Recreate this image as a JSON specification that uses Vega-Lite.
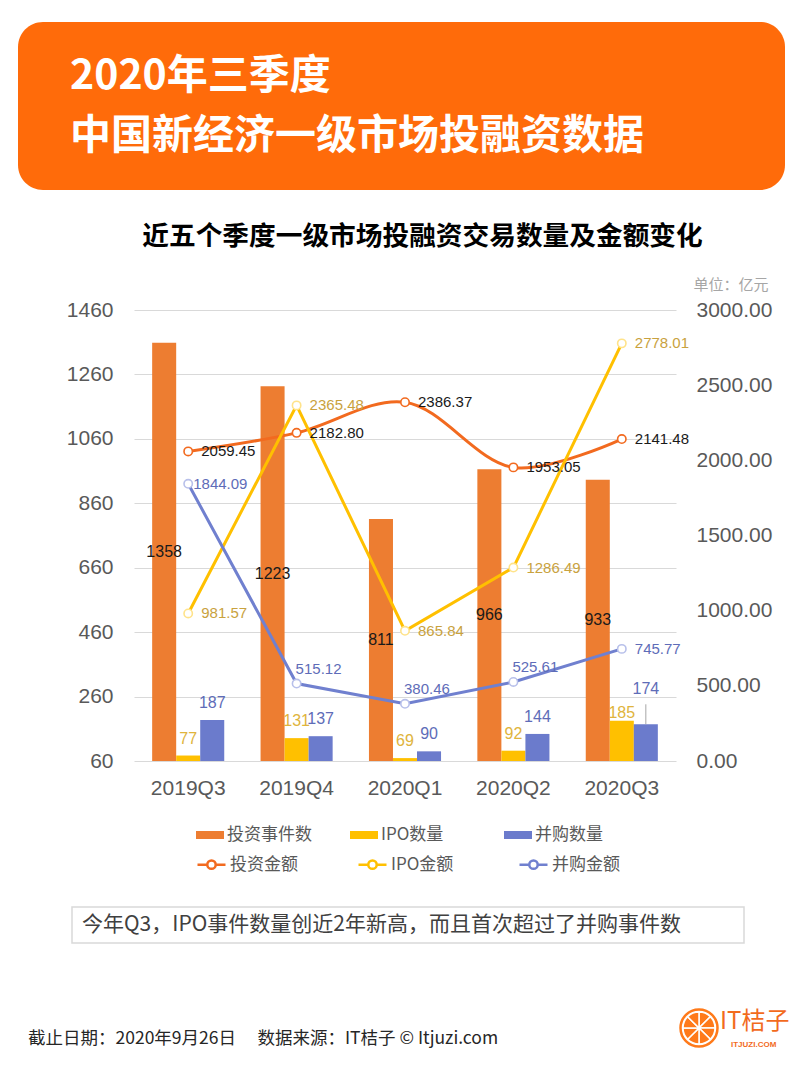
{
  "$schema": "https://vega.github.io/schema/vega-lite/v6.json",
  "background": "white",
  "padding": {"left": 18, "top": 22, "right": 17, "bottom": 10},
  "autosize": {"type": "pad"},
  "config": {"view": {"stroke": null}, "font": "Noto Sans CJK SC"},
  "datasets": {
    "counts": [
      {"quarter": "2019Q3", "series": "投资事件数", "count": 1358},
      {"quarter": "2019Q3", "series": "IPO数量", "count": 77},
      {"quarter": "2019Q3", "series": "并购数量", "count": 187},
      {"quarter": "2019Q4", "series": "投资事件数", "count": 1223},
      {"quarter": "2019Q4", "series": "IPO数量", "count": 131},
      {"quarter": "2019Q4", "series": "并购数量", "count": 137},
      {"quarter": "2020Q1", "series": "投资事件数", "count": 811},
      {"quarter": "2020Q1", "series": "IPO数量", "count": 69},
      {"quarter": "2020Q1", "series": "并购数量", "count": 90},
      {"quarter": "2020Q2", "series": "投资事件数", "count": 966},
      {"quarter": "2020Q2", "series": "IPO数量", "count": 92},
      {"quarter": "2020Q2", "series": "并购数量", "count": 144},
      {"quarter": "2020Q3", "series": "投资事件数", "count": 933},
      {"quarter": "2020Q3", "series": "IPO数量", "count": 185},
      {"quarter": "2020Q3", "series": "并购数量", "count": 174}
    ],
    "amounts": [
      {"quarter": "2019Q3", "series": "投资金额", "amount": 2059.45},
      {"quarter": "2019Q4", "series": "投资金额", "amount": 2182.80},
      {"quarter": "2020Q1", "series": "投资金额", "amount": 2386.37},
      {"quarter": "2020Q2", "series": "投资金额", "amount": 1953.05},
      {"quarter": "2020Q3", "series": "投资金额", "amount": 2141.48},
      {"quarter": "2019Q3", "series": "IPO金额", "amount": 981.57},
      {"quarter": "2019Q4", "series": "IPO金额", "amount": 2365.48},
      {"quarter": "2020Q1", "series": "IPO金额", "amount": 865.84},
      {"quarter": "2020Q2", "series": "IPO金额", "amount": 1286.49},
      {"quarter": "2020Q3", "series": "IPO金额", "amount": 2778.01},
      {"quarter": "2019Q3", "series": "并购金额", "amount": 1844.09},
      {"quarter": "2019Q4", "series": "并购金额", "amount": 515.12},
      {"quarter": "2020Q1", "series": "并购金额", "amount": 380.46},
      {"quarter": "2020Q2", "series": "并购金额", "amount": 525.61},
      {"quarter": "2020Q3", "series": "并购金额", "amount": 745.77}
    ],
    "note": [{"note": "今年Q3，IPO事件数量创近2年新高，而且首次超过了并购事件数"}],
    "source": [{"source": "截止日期：2020年9月26日\u3000\u00a0数据来源：IT桔子 © Itjuzi.com"}],
    "logo": [
      {"slice": "a", "share": 1}, {"slice": "b", "share": 1}, {"slice": "c", "share": 1}, {"slice": "d", "share": 1},
      {"slice": "e", "share": 1}, {"slice": "f", "share": 1}, {"slice": "g", "share": 1}, {"slice": "h", "share": 1}
    ],
    "brand": [{"name": "IT桔子", "site": "ITJUZI.COM"}]
  },
  "columns": 1,
  "spacing": 120,
  "bounds": "flush",
  "align": "none",
  "concat": [
    {
      "width": 767,
      "height": 168,
      "view": {"fill": "#FF6B0A", "cornerRadius": 25, "stroke": null},
      "data": {"values": [{"line": "2020年三季度"}, {"line": "中国新经济一级市场投融资数据"}]},
      "mark": {"type": "text", "align": "left", "baseline": "middle", "font": "Noto Sans CJK SC", "fontWeight": "bold", "fontSize": 41, "color": "#FFFFFF"},
      "encoding": {
        "x": {"datum": 52, "type": "quantitative", "scale": {"domain": [0, 767], "nice": false, "zero": false}, "axis": null},
        "y": {"field": "line", "type": "nominal", "sort": null, "scale": {"range": [55, 115], "padding": 0}, "axis": null},
        "text": {"field": "line", "type": "nominal"}
      }
    },
    {
      "width": 767,
      "height": 451,
      "view": {"stroke": null},
      "title": {"text": "近五个季度一级市场投融资交易数量及金额变化", "font": "Noto Sans CJK SC", "fontSize": 26.7, "fontWeight": "bold", "color": "#000000", "anchor": "middle", "frame": "group", "dx": 21, "offset": 26},
      "encoding": {
        "x": {
          "field": "quarter", "type": "nominal", "sort": null,
          "scale": {"range": [116, 658], "paddingInner": 0.335, "paddingOuter": 0.1675},
          "axis": {"orient": "bottom", "domain": false, "ticks": false, "tickSize": 0, "grid": false, "labelAngle": 0, "labelFont": "Liberation Sans", "labelFontSize": 21, "labelColor": "#595959", "labelPadding": 16, "title": null}
        }
      },
      "layer": [
        {
          "data": {"name": "counts"},
          "encoding": {
            "y": {
              "field": "count", "type": "quantitative",
              "scale": {"domain": [60, 1460], "zero": false, "nice": false},
              "axis": {"orient": "left", "offset": -116, "values": [60, 260, 460, 660, 860, 1060, 1260, 1460], "format": "d", "grid": true, "gridColor": "#D9D9D9", "gridWidth": 1.2, "domain": false, "ticks": false, "tickSize": 0, "labelFont": "Liberation Sans", "labelFontSize": 21, "labelColor": "#595959", "labelPadding": 21, "title": null}
            }
          },
          "layer": [
            {
              "mark": {"type": "bar"},
              "encoding": {
                "xOffset": {"field": "series", "type": "nominal", "sort": null, "scale": {"domain": ["投资事件数", "IPO数量", "并购数量"], "paddingInner": 0, "paddingOuter": 0}},
                "y2": {"datum": 60},
                "fill": {
                  "field": "series", "type": "nominal", "sort": null,
                  "scale": {"domain": ["投资事件数", "IPO数量", "并购数量"], "range": ["#ED7D31", "#FFC000", "#6B7BCC"]},
                  "legend": {"orient": "none", "legendX": 178, "legendY": 799, "direction": "horizontal", "columns": 3, "gridAlign": "all", "columnPadding": 38, "title": null, "symbolType": "M-1,-0.2857H1V0.2857H-1Z", "symbolSize": 784, "symbolStrokeWidth": 0, "labelFont": "Noto Sans CJK SC", "labelFontSize": 17, "labelColor": "#595959", "labelOffset": 3, "labelLimit": 300}
                }
              }
            },
            {
              "transform": [{"filter": "datum.series !== '投资事件数' && datum.quarter !== '2020Q3'"}],
              "mark": {"type": "text", "baseline": "bottom", "dy": -9, "font": "Liberation Sans", "fontSize": 16},
              "encoding": {
                "xOffset": {"field": "series", "type": "nominal", "sort": null, "scale": {"domain": ["投资事件数", "IPO数量", "并购数量"], "paddingInner": 0, "paddingOuter": 0}},
                "text": {"field": "count", "type": "quantitative"},
                "color": {"field": "series", "type": "nominal", "scale": {"domain": ["投资事件数", "IPO数量", "并购数量", "投资金额", "IPO金额", "并购金额"], "range": ["#1A1A1A", "#E0B43C", "#5E6CB8", "#1A1A1A", "#C9A23E", "#5E6CB8"]}, "legend": null}
              }
            },
            {
              "transform": [{"filter": "datum.series === 'IPO数量' && datum.quarter === '2020Q3'"}],
              "mark": {"type": "text", "baseline": "bottom", "dy": 0, "font": "Liberation Sans", "fontSize": 16},
              "encoding": {
                "xOffset": {"field": "series", "type": "nominal", "sort": null, "scale": {"domain": ["投资事件数", "IPO数量", "并购数量"], "paddingInner": 0, "paddingOuter": 0}},
                "text": {"field": "count", "type": "quantitative"},
                "color": {"field": "series", "type": "nominal", "scale": {"domain": ["投资事件数", "IPO数量", "并购数量", "投资金额", "IPO金额", "并购金额"], "range": ["#1A1A1A", "#E0B43C", "#5E6CB8", "#1A1A1A", "#C9A23E", "#5E6CB8"]}, "legend": null}
              }
            },
            {
              "transform": [{"filter": "datum.series === '并购数量' && datum.quarter === '2020Q3'"}],
              "mark": {"type": "text", "baseline": "bottom", "dy": -27, "font": "Liberation Sans", "fontSize": 16},
              "encoding": {
                "xOffset": {"field": "series", "type": "nominal", "sort": null, "scale": {"domain": ["投资事件数", "IPO数量", "并购数量"], "paddingInner": 0, "paddingOuter": 0}},
                "text": {"field": "count", "type": "quantitative"},
                "color": {"field": "series", "type": "nominal", "scale": {"domain": ["投资事件数", "IPO数量", "并购数量", "投资金额", "IPO金额", "并购金额"], "range": ["#1A1A1A", "#E0B43C", "#5E6CB8", "#1A1A1A", "#C9A23E", "#5E6CB8"]}, "legend": null}
              }
            },
            {
              "transform": [{"filter": "datum.series === '并购数量' && datum.quarter === '2020Q3'"}],
              "mark": {"type": "rule", "color": "#A6A6A6", "strokeWidth": 1},
              "encoding": {
                "xOffset": {"field": "series", "type": "nominal", "sort": null, "scale": {"domain": ["投资事件数", "IPO数量", "并购数量"], "paddingInner": 0, "paddingOuter": 0}},
                "y2": {"datum": 236}
              }
            }
          ]
        },
        {
          "data": {"name": "counts"},
          "transform": [{"filter": "datum.series === '投资事件数'"}],
          "mark": {"type": "text", "baseline": "middle", "font": "Liberation Sans", "fontSize": 16},
          "encoding": {
            "xOffset": {"field": "series", "type": "nominal", "sort": null, "scale": {"domain": ["投资事件数", "IPO数量", "并购数量"], "paddingInner": 0, "paddingOuter": 0}},
            "y": {"field": "count", "type": "quantitative", "scale": {"domain": [60, 2860], "zero": false, "nice": false}, "axis": null},
            "text": {"field": "count", "type": "quantitative"},
            "color": {"field": "series", "type": "nominal", "scale": {"domain": ["投资事件数", "IPO数量", "并购数量", "投资金额", "IPO金额", "并购金额"], "range": ["#1A1A1A", "#E0B43C", "#5E6CB8", "#1A1A1A", "#C9A23E", "#5E6CB8"]}, "legend": null}
          }
        },
        {
          "data": {"name": "amounts"},
          "encoding": {
            "y": {
              "field": "amount", "type": "quantitative",
              "scale": {"domain": [0, 3000], "nice": false},
              "axis": {"orient": "right", "offset": -109, "values": [0, 500, 1000, 1500, 2000, 2500, 3000], "format": ".2f", "grid": false, "domain": false, "ticks": false, "tickSize": 0, "labelFont": "Liberation Sans", "labelFontSize": 21, "labelColor": "#595959", "labelPadding": 20, "title": "单位：亿元", "titleAngle": 0, "titleX": 17, "titleY": -26, "titleAlign": "left", "titleBaseline": "middle", "titleFont": "Noto Sans CJK SC", "titleFontSize": 15, "titleFontWeight": "normal", "titleColor": "#A6A6A6"}
            }
          },
          "layer": [
            {
              "transform": [{"filter": "datum.series === '投资金额'"}],
              "mark": {"type": "line", "interpolate": "catmull-rom", "strokeWidth": 3},
              "encoding": {
                "stroke": {
                  "field": "series", "type": "nominal", "sort": null,
                  "scale": {"domain": ["投资金额", "IPO金额", "并购金额"], "range": ["#F26A1F", "#FFC000", "#7080CF"]},
                  "legend": {"orient": "none", "legendX": 178, "legendY": 827, "direction": "horizontal", "columns": 3, "gridAlign": "all", "columnPadding": 55, "title": null, "symbolType": "M-1,0H-0.3M0.3,0H1M0.3,0A0.3,0.3,0,1,1,-0.3,0A0.3,0.3,0,1,1,0.3,0", "symbolSize": 784, "symbolStrokeWidth": 2.5, "symbolFillColor": "#FFFFFF", "labelFont": "Noto Sans CJK SC", "labelFontSize": 17, "labelColor": "#595959", "labelOffset": 3, "labelLimit": 300}
                }
              }
            },
            {
              "transform": [{"filter": "datum.series !== '投资金额'"}],
              "mark": {"type": "line", "strokeWidth": 3},
              "encoding": {
                "stroke": {"field": "series", "type": "nominal", "sort": null, "scale": {"domain": ["投资金额", "IPO金额", "并购金额"], "range": ["#F26A1F", "#FFC000", "#7080CF"]}}
              }
            },
            {
              "transform": [{"filter": "datum.series === '投资金额'"}],
              "mark": {"type": "point", "shape": "circle", "filled": true, "fill": "#FFFFFF", "stroke": "#F26A1F", "strokeWidth": 1.6, "size": 70, "opacity": 1}
            },
            {
              "transform": [{"filter": "datum.series === 'IPO金额'"}],
              "mark": {"type": "point", "shape": "circle", "filled": true, "fill": "#FFFFFF", "stroke": "#FFE38A", "strokeWidth": 1.6, "size": 70, "opacity": 1}
            },
            {
              "transform": [{"filter": "datum.series === '并购金额'"}],
              "mark": {"type": "point", "shape": "circle", "filled": true, "fill": "#FFFFFF", "stroke": "#B8C0EA", "strokeWidth": 1.6, "size": 70, "opacity": 1}
            },
            {
              "transform": [{"filter": "datum.series !== '并购金额' || datum.quarter === '2020Q3'"}],
              "mark": {"type": "text", "align": "left", "baseline": "middle", "dx": 13, "font": "Liberation Sans", "fontSize": 15},
              "encoding": {
                "text": {"field": "amount", "type": "quantitative", "format": ".2f"},
                "color": {"field": "series", "type": "nominal", "scale": {"domain": ["投资事件数", "IPO数量", "并购数量", "投资金额", "IPO金额", "并购金额"], "range": ["#1A1A1A", "#E0B43C", "#5E6CB8", "#1A1A1A", "#C9A23E", "#5E6CB8"]}, "legend": null}
              }
            },
            {
              "transform": [{"filter": "datum.series === '并购金额' && datum.quarter === '2019Q3'"}],
              "mark": {"type": "text", "align": "left", "baseline": "middle", "dx": 5, "font": "Liberation Sans", "fontSize": 15},
              "encoding": {
                "text": {"field": "amount", "type": "quantitative", "format": ".2f"},
                "color": {"field": "series", "type": "nominal", "scale": {"domain": ["投资事件数", "IPO数量", "并购数量", "投资金额", "IPO金额", "并购金额"], "range": ["#1A1A1A", "#E0B43C", "#5E6CB8", "#1A1A1A", "#C9A23E", "#5E6CB8"]}, "legend": null}
              }
            },
            {
              "transform": [{"filter": "datum.series === '并购金额' && datum.quarter !== '2019Q3' && datum.quarter !== '2020Q3'"}],
              "mark": {"type": "text", "align": "left", "baseline": "middle", "dx": -1, "dy": -15, "font": "Liberation Sans", "fontSize": 15},
              "encoding": {
                "text": {"field": "amount", "type": "quantitative", "format": ".2f"},
                "color": {"field": "series", "type": "nominal", "scale": {"domain": ["投资事件数", "IPO数量", "并购数量", "投资金额", "IPO金额", "并购金额"], "range": ["#1A1A1A", "#E0B43C", "#5E6CB8", "#1A1A1A", "#C9A23E", "#5E6CB8"]}, "legend": null}
              }
            }
          ]
        }
      ],
      "resolve": {"scale": {"y": "independent"}}
    },
    {
      "width": 767,
      "height": 177,
      "view": {"stroke": null},
      "layer": [
        {
          "data": {"name": "note"},
          "mark": {"type": "rect", "fill": "#FFFFFF", "stroke": "#D9D9D9", "strokeWidth": 1.5},
          "encoding": {
            "x": {"datum": 54, "type": "quantitative", "scale": {"domain": [0, 767], "nice": false, "zero": false}, "axis": null},
            "x2": {"datum": 726},
            "y": {"datum": 26, "type": "quantitative", "scale": {"domain": [0, 177], "nice": false, "zero": false, "reverse": true}, "axis": null},
            "y2": {"datum": 62}
          }
        },
        {
          "data": {"name": "note"},
          "mark": {"type": "text", "align": "left", "baseline": "middle", "font": "Noto Sans CJK SC", "fontSize": 21, "color": "#404040"},
          "encoding": {
            "x": {"datum": 64, "type": "quantitative", "scale": {"domain": [0, 767], "nice": false, "zero": false}, "axis": null},
            "y": {"datum": 44, "type": "quantitative", "scale": {"domain": [0, 177], "nice": false, "zero": false, "reverse": true}, "axis": null},
            "text": {"field": "note", "type": "nominal"}
          }
        },
        {
          "data": {"name": "source"},
          "mark": {"type": "text", "align": "left", "baseline": "middle", "font": "Noto Sans CJK SC", "fontSize": 17.5, "color": "#262626"},
          "encoding": {
            "x": {"datum": 10, "type": "quantitative", "scale": {"domain": [0, 767], "nice": false, "zero": false}, "axis": null},
            "y": {"datum": 158, "type": "quantitative", "scale": {"domain": [0, 177], "nice": false, "zero": false, "reverse": true}, "axis": null},
            "text": {"field": "source", "type": "nominal"}
          }
        },
        {
          "data": {"name": "logo"},
          "mark": {"type": "arc", "radius": 16, "fill": "#FF7A1A", "stroke": "#FFFFFF", "strokeWidth": 1.5},
          "encoding": {
            "theta": {"field": "share", "type": "quantitative"},
            "x": {"datum": 681, "type": "quantitative", "scale": {"domain": [0, 767], "nice": false, "zero": false}, "axis": null},
            "y": {"datum": 147, "type": "quantitative", "scale": {"domain": [0, 177], "nice": false, "zero": false, "reverse": true}, "axis": null}
          }
        },
        {
          "data": {"name": "brand"},
          "mark": {"type": "point", "shape": "circle", "filled": false, "stroke": "#FF7A1A", "strokeWidth": 2.5, "size": 1369, "opacity": 1},
          "encoding": {
            "x": {"datum": 681, "type": "quantitative", "scale": {"domain": [0, 767], "nice": false, "zero": false}, "axis": null},
            "y": {"datum": 147, "type": "quantitative", "scale": {"domain": [0, 177], "nice": false, "zero": false, "reverse": true}, "axis": null}
          }
        },
        {
          "data": {"name": "brand"},
          "mark": {"type": "text", "align": "left", "baseline": "middle", "font": "Noto Sans CJK SC", "fontSize": 24, "color": "#F26B1D"},
          "encoding": {
            "x": {"datum": 702, "type": "quantitative", "scale": {"domain": [0, 767], "nice": false, "zero": false}, "axis": null},
            "y": {"datum": 141, "type": "quantitative", "scale": {"domain": [0, 177], "nice": false, "zero": false, "reverse": true}, "axis": null},
            "text": {"field": "name", "type": "nominal"}
          }
        },
        {
          "data": {"name": "brand"},
          "mark": {"type": "text", "align": "left", "baseline": "middle", "font": "Liberation Sans", "fontWeight": "bold", "fontSize": 8, "color": "#F26B1D"},
          "encoding": {
            "x": {"datum": 713, "type": "quantitative", "scale": {"domain": [0, 767], "nice": false, "zero": false}, "axis": null},
            "y": {"datum": 164, "type": "quantitative", "scale": {"domain": [0, 177], "nice": false, "zero": false, "reverse": true}, "axis": null},
            "text": {"field": "site", "type": "nominal"}
          }
        }
      ]
    }
  ]
}
